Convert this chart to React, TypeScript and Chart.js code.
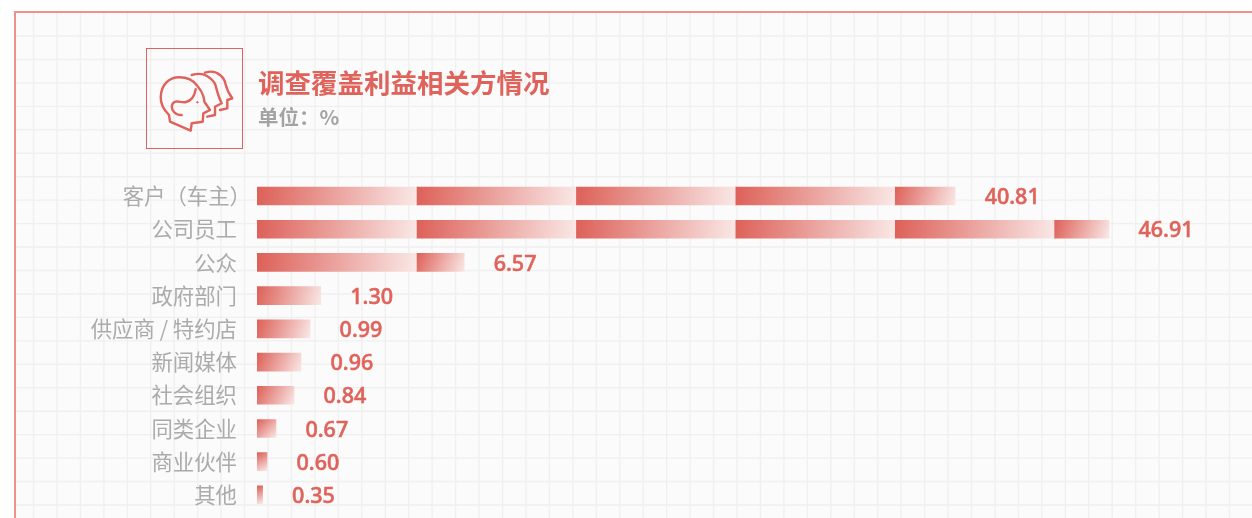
import React, { useEffect, useRef } from "react";
import { Chart, registerables } from "chart.js";

Chart.register(...registerables);

const categories = ["客户（车主）", "公司员工", "公众", "政府部门", "供应商 / 特约店", "新闻媒体", "社会组织", "同类企业", "商业伙伴", "其他"];
const shareValues = ["40.81", "46.91", "6.57", "1.30", "0.99", "0.96", "0.84", "0.67", "0.60", "0.35"];
// Drawn bar length in "blocks" (the picture's bars are not proportional to the printed values)
const barBlocks = [4.38, 5.345, 1.3, 0.4, 0.333, 0.276, 0.232, 0.119, 0.063, 0.035];
const blockSlots = [0, 1, 2, 3, 4, 5];

const RED = "#e0635b";
const FONT = '"Noto Sans CJK SC", "Noto Sans", sans-serif';
const DIGIT_FONT = '"Noto Sans", "Noto Sans CJK SC", sans-serif';

const gridPlugin = {
  id: "paperGrid",
  beforeDraw(chart: any) {
    const { ctx, width, height } = chart;
    ctx.save();
    ctx.strokeStyle = "#f0f0f0";
    ctx.lineWidth = 1.4;
    const step = 23.45;
    ctx.beginPath();
    for (let x = 33.5; x < width; x += step) {
      ctx.moveTo(x, 13);
      ctx.lineTo(x, height);
    }
    for (let y = 36; y < height; y += step) {
      ctx.moveTo(16, y);
      ctx.lineTo(width, y);
    }
    ctx.stroke();
    ctx.restore();
  },
};

const valueLabelPlugin = {
  id: "valueLabels",
  afterDatasetsDraw(chart: any) {
    const { ctx, scales } = chart;
    ctx.save();
    ctx.fillStyle = RED;
    ctx.strokeStyle = RED;
    ctx.lineWidth = 0.55;
    ctx.font = `500 21.5px ${DIGIT_FONT}`;
    ctx.textAlign = "left";
    ctx.textBaseline = "middle";
    shareValues.forEach((v, i) => {
      const px = scales.x.getPixelForValue(barBlocks[i]) + 29.5;
      const py = scales.y.getPixelForValue(i) + 2;
      ctx.fillText(v, px, py);
      ctx.strokeText(v, px, py);
    });
    ctx.restore();
  },
};

// The closing full-width bracket carries blank space on its right; pull that label to the axis edge.
const bracketPlugin = {
  id: "bracketLabel",
  afterLayout(chart: any) {
    chart.scales.y.getLabelItems(chart.chartArea).forEach((item: any) => {
      if (String(item.label).endsWith("）")) {
        item.options.translation = [item.options.translation[0] + 14, item.options.translation[1]];
      }
    });
  },
};

function blockFill(c: any) {
  if (c.dataIndex === undefined) return "rgba(0,0,0,0)";
  const { chart, datasetIndex, dataIndex } = c;
  const { x, y } = chart.scales;
  const len = chart.data.datasets[datasetIndex].data[dataIndex];
  if (!len) return "rgba(0,0,0,0)";
  const x0 = x.getPixelForValue(datasetIndex);
  const x1 = x.getPixelForValue(datasetIndex + len);
  const cy = y.getPixelForValue(dataIndex);
  if (![x0, x1, cy].every(Number.isFinite)) return RED;
  const g = chart.ctx.createLinearGradient(x0, cy - 9, x1, cy + 9);
  g.addColorStop(0, "#dd6058");
  g.addColorStop(1, "#f9e8e6");
  return g;
}

export default function App() {
  const ref = useRef<HTMLCanvasElement | null>(null);

  useEffect(() => {
    const chart = new Chart(ref.current as HTMLCanvasElement, {
      type: "bar",
      data: {
        labels: categories,
        datasets: blockSlots.map((k) => ({
          label: `block ${k + 1}`,
          data: barBlocks.map((b) => Math.min(1, Math.max(0, b - k))),
          backgroundColor: blockFill,
          barThickness: 18,
          borderWidth: 0,
        })),
      },
      options: {
        indexAxis: "y",
        responsive: false,
        animation: false,
        layout: { padding: { top: 179.4, bottom: 6.5, left: 0, right: 0 } },
        plugins: { legend: { display: false }, tooltip: { enabled: false }, title: { display: false } },
        scales: {
          x: { stacked: true, display: false, min: 0, max: 995 / 159.4 },
          y: {
            stacked: true,
            grid: { display: false, drawTicks: false },
            border: { display: false },
            afterFit: (s: any) => {
              s.width = 257;
              s.paddingTop = 0;
              s.paddingBottom = 0;
            },
            ticks: {
              color: "#ababab",
              padding: 20,
              autoSkip: false,
              font: { family: FONT, size: 21.4, weight: "400" },
            },
          },
        },
      },
      plugins: [gridPlugin, valueLabelPlugin, bracketPlugin],
    } as any);
    return () => chart.destroy();
  }, []);

  return (
    <div style={{ position: "fixed", inset: 0, overflow: "hidden", background: "#fff" }}>
      <div
        style={{
          position: "absolute",
          left: 14,
          top: 11,
          width: 1400,
          height: 700,
          boxSizing: "border-box",
          border: "2px solid #f0928c",
          background: "#fbfbfb",
        }}
      />
      <canvas ref={ref} width={1252} height={518} style={{ position: "absolute", left: 0, top: 0, display: "block" }} />
      <div
        style={{
          position: "absolute",
          left: 146,
          top: 47.5,
          width: 96.5,
          height: 101,
          boxSizing: "border-box",
          border: `1px solid ${RED}`,
        }}
      />
      <svg
        width={1252}
        height={518}
        style={{ position: "absolute", left: 0, top: 0 }}
        fill="none"
        stroke={RED}
        strokeWidth={2.4}
        strokeLinecap="round"
        strokeLinejoin="round"
      >
        <path d="M190.7 130.7 L170 121.7 L169 115 C163 109 160.5 104 160.7 97 C161 85 169 77.3 179 77.3 C188 77.3 194 81 197.5 86 C200 89 202 92 203.3 96 L204.5 102 L210 110 L203.3 113.3 L202.7 121.7 L191.7 123.3 Z" />
        <path d="M195.7 89.3 C194.5 96 191 101 186 102 C182 103 178 100.5 174.5 102 C171 104 171 109 174 112 C176 114.5 179 115 181.7 115" />
        <path d="M191.7 75 C197 73.5 203 73.5 207 76 C212 79 214 81 215.5 85 C217 91 218 96 221.7 103.3 L215 106.7 L215 115 L207.3 116.7" />
        <path d="M205 72.7 C210 71 216 71.5 220 75 C224 78 225 81 225.5 84 C227 90 229 94 232.3 98.3 L227.3 100 L227.3 108.3 L220 110" />
        <circle cx={197.3} cy={102.3} r={0.7} fill={RED} strokeWidth={1} />
      </svg>
      <div
        style={{
          position: "absolute",
          left: 258,
          top: 63,
          font: `700 26.5px/38px ${FONT}`,
          color: RED,
          whiteSpace: "nowrap",
        }}
      >
        调查覆盖利益相关方情况
      </div>
      <div
        style={{
          position: "absolute",
          left: 258,
          top: 101,
          font: `600 20.5px/30px ${FONT}`,
          color: "#a3a3a3",
          whiteSpace: "nowrap",
        }}
      >
        单位：%
      </div>
    </div>
  );
}
